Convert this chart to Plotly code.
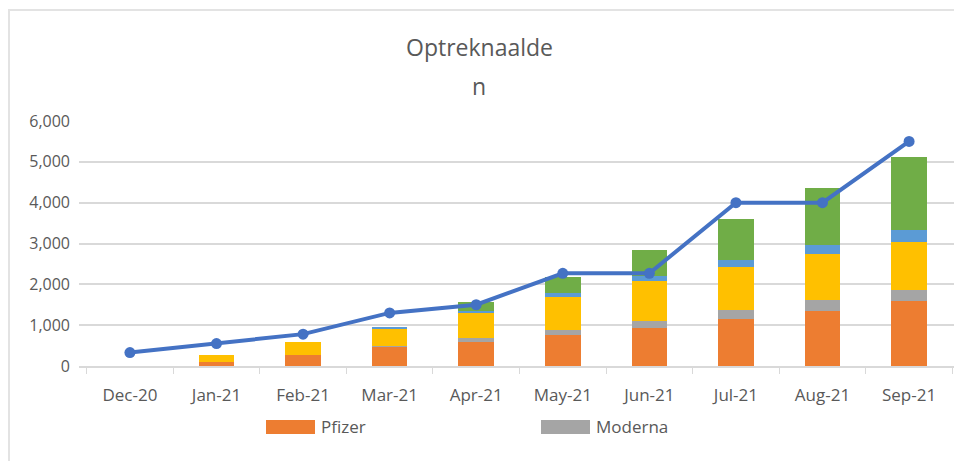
import plotly.graph_objects as go

# Data
months = ["Dec-20", "Jan-21", "Feb-21", "Mar-21", "Apr-21",
          "May-21", "Jun-21", "Jul-21", "Aug-21", "Sep-21"]
pfizer = [0, 110, 275, 475, 590, 760, 935, 1145, 1350, 1580]
moderna = [0, 0, 0, 20, 100, 110, 165, 220, 260, 290]
astrazeneca = [0, 150, 325, 405, 600, 810, 970, 1060, 1135, 1170]
janssen = [0, 0, 0, 50, 60, 100, 140, 165, 230, 290]
overig = [0, 0, 0, 0, 210, 395, 620, 1020, 1390, 1780]
optreknaalden = [330, 550, 780, 1300, 1500, 2270, 2270, 4000, 4000, 5500]
y_ticks = [0, 1000, 2000, 3000, 4000, 5000, 6000]

bar_series = [
    ("Pfizer", pfizer, "#ED7D31"),
    ("Moderna", moderna, "#A5A5A5"),
    ("AstraZeneca", astrazeneca, "#FFC000"),
    ("Janssen", janssen, "#5B9BD5"),
    ("Overig", overig, "#70AD47"),
]

# the page body adds an 8px offset, so work in screen pixels and shift
OFF = 8
W, H = 962, 461
plot_left, plot_right, plot_top, plot_bottom = 79, 960, 121, 366
L = plot_left - OFF
R = W - (plot_right - OFF)
T = plot_top - OFF
B = H - (plot_bottom - OFF)
pw, ph = plot_right - plot_left, plot_bottom - plot_top

def px(x):
    return (x - plot_left) / pw

def py(y):
    return (plot_bottom - y) / ph

text_col = "#595959"
font_fam = "'Open Sans', sans-serif"

fig = go.Figure()

for name, vals, col in bar_series:
    fig.add_trace(go.Bar(
        x=months, y=vals, name=name,
        marker=dict(color=col, line=dict(width=0)),
        showlegend=False
    ))

fig.add_trace(go.Scatter(
    x=months, y=optreknaalden, name="Optreknaalden",
    mode="lines+markers",
    line=dict(color="#4472C4", width=4),
    marker=dict(color="#4472C4", size=11),
    showlegend=False
))

# legend (only the first two entries are visible in the original)
shapes = []
annotations = []
legend_x = [266, 541]
for (name, vals, col), lx in zip(bar_series[:2], legend_x):
    shapes.append(dict(type="rect", xref="paper", yref="paper",
                       x0=px(lx), x1=px(lx + 49), y0=py(434), y1=py(420),
                       fillcolor=col, line=dict(width=0)))
    annotations.append(dict(text=name, xref="paper", yref="paper",
                            x=px(lx + 53), y=py(427), xanchor="left", yanchor="middle",
                            showarrow=False, font=dict(size=17, color=text_col, family=font_fam)))

# title, wrapped over two lines like the original
annotations.append(dict(text="Optreknaalde", xref="paper", yref="paper",
                        x=px(479), y=py(47), yanchor="middle", showarrow=False,
                        font=dict(size=23, color=text_col, family=font_fam)))
annotations.append(dict(text="n", xref="paper", yref="paper",
                        x=px(479), y=py(86), yanchor="middle", showarrow=False,
                        font=dict(size=23, color=text_col, family=font_fam)))

# chart frame (left and top edges visible)
shapes.append(dict(type="rect", xref="paper", yref="paper",
                   x0=px(9), x1=px(1000), y0=py(500), y1=py(10),
                   line=dict(color="#e3e3e3", width=2), layer="below"))

fig.update_layout(
    width=W, height=H,
    margin=dict(l=L, r=R, t=T, b=B),
    barmode="stack",
    bargap=0.59,
    plot_bgcolor="white",
    paper_bgcolor="white",
    font=dict(family=font_fam, color=text_col, size=16),
    shapes=shapes,
    annotations=annotations,
    xaxis=dict(
        showgrid=False,
        showline=True, linecolor="#d9d9d9", linewidth=1.5,
        ticks="outside", tickson="boundaries", ticklen=6, tickcolor="#d9d9d9",
        ticklabelstandoff=13,
        tickfont=dict(size=17, color=text_col),
    ),
    yaxis=dict(
        range=[0, 6000], tickvals=y_ticks, tickformat=",",
        showgrid=True, gridcolor="#d9d9d9", gridwidth=1.5,
        zeroline=False, showline=False,
        ticks="", ticklabelstandoff=8,
        tickfont=dict(size=16, color=text_col),
    ),
)

fig.write_html("out.html")
